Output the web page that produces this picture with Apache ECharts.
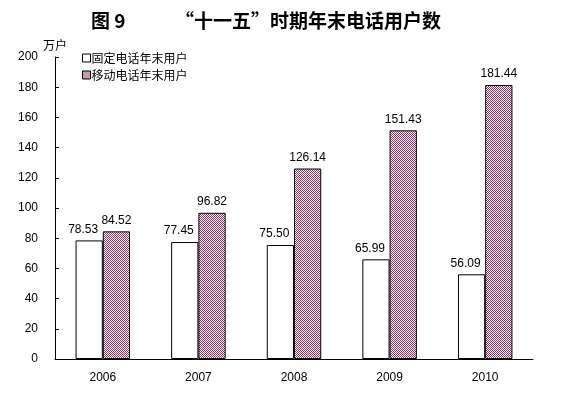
<!DOCTYPE html>
<html>
<head>
<meta charset="utf-8">
<script src="https://cdn.jsdelivr.net/npm/echarts@6/dist/echarts.min.js"></script>
<style>html,body{margin:0;padding:0;background:#fff;}#c{width:579px;height:395px;}</style>
</head>
<body>
<div id="c"></div>
<script>
const categories = ['2006', '2007', '2008', '2009', '2010'];
const fixedValues = [78.53, 77.45, 75.50, 65.99, 56.09];
const mobileValues = [84.52, 96.82, 126.14, 151.43, 181.44];
const seriesNames = ['固定电话年末用户', '移动电话年末用户'];
const yTicks = { min: 0, max: 200, interval: 20 };

const cv = document.createElement('canvas');
cv.width = 2; cv.height = 2;
const cx = cv.getContext('2d');
cx.fillStyle = '#ffffff'; cx.fillRect(0, 0, 2, 2);
cx.fillStyle = '#993366'; cx.fillRect(0, 0, 1, 1); cx.fillRect(1, 1, 1, 1);

const chart = echarts.init(document.getElementById('c'), null, { renderer: 'canvas' });
const font = 'Arial, "Liberation Sans", "Noto Sans CJK SC", sans-serif';
chart.setOption({
  animation: false,
  backgroundColor: '#fff',
  title: [
    { text: '图 9', left: 86, top: 6, textStyle: { fontSize: 19, fontWeight: 'bold', color: '#000', fontFamily: '"Noto Sans CJK SC", serif' } },
    { text: '“十一五”时期年末电话用户数', left: 170, top: 6, textStyle: { fontSize: 19, fontWeight: 'bold', color: '#000', fontFamily: '"Noto Sans CJK SC", serif' } }
  ],
  legend: {
    orient: 'vertical', left: 77, top: 47, itemWidth: 8, itemHeight: 8, itemGap: 5,
    icon: 'rect',
    itemStyle: { borderWidth: 1, borderColor: '#000' },
    textStyle: { fontSize: 12, color: '#000', fontFamily: '"Noto Sans CJK SC", sans-serif', padding: [0,0,0,-4] },
    data: seriesNames
  },
  grid: { left: 55, right: 46, top: 57, bottom: 36 },
  xAxis: {
    type: 'category', data: categories,
    axisLine: { lineStyle: { color: '#000', width: 1 } },
    axisTick: { inside: true, length: 4, lineStyle: { color: '#000' } },
    axisLabel: { color: '#000', fontSize: 12, fontFamily: font, margin: 13 }
  },
  yAxis: {
    type: 'value', min: yTicks.min, max: yTicks.max, interval: yTicks.interval,
    name: '万户', nameLocation: 'end', nameGap: 5,
    nameTextStyle: { color: '#000', fontSize: 12, fontFamily: '"Noto Sans CJK SC", sans-serif' },
    axisLine: { show: true, lineStyle: { color: '#000', width: 1 } },
    axisTick: { show: true, inside: true, length: 4, lineStyle: { color: '#000' } },
    axisLabel: { color: '#000', fontSize: 12, fontFamily: font, margin: 17 },
    splitLine: { show: false }
  },
  series: [
    {
      name: seriesNames[0], type: 'bar', data: fixedValues,
      barGap: '0%', barCategoryGap: '43%',
      itemStyle: { color: '#fff', borderColor: '#000', borderWidth: 1 },
      label: { show: true, position: 'top', distance: 5, offset: [-6, 0], color: '#000', fontSize: 12, fontFamily: font, formatter: p => p.value.toFixed(2) }
    },
    {
      name: seriesNames[1], type: 'bar', data: mobileValues,
      barGap: '0%', barCategoryGap: '43%',
      itemStyle: { color: { image: cv, repeat: 'repeat' }, borderColor: '#000', borderWidth: 1 },
      label: { show: true, position: 'top', distance: 5, color: '#000', fontSize: 12, fontFamily: font, formatter: p => p.value.toFixed(2) }
    }
  ]
});
</script>
</body>
</html>
